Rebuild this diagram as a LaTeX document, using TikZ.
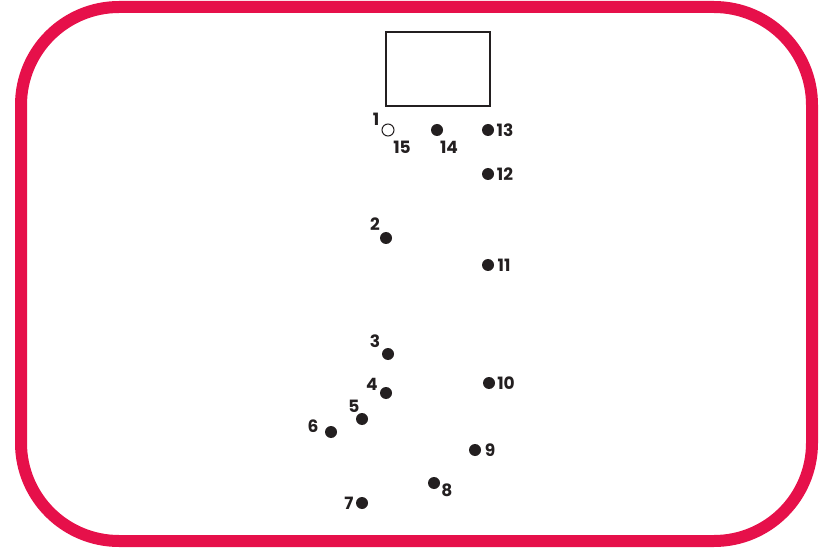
\documentclass[tikz,border=0pt]{standalone}
\usepackage{fontspec}
\setmainfont{Poppins}
\usepackage{tikz}
\usetikzlibrary{positioning}

\definecolor{frame}{RGB}{230,16,74}
\definecolor{ink}{RGB}{35,31,32}

\begin{document}
\begin{tikzpicture}[
    x=1pt, y=-1pt,
    dot/.style={circle, fill=ink, inner sep=0pt, minimum size=12pt},
    opendot/.style={circle, draw=ink, line width=1pt, fill=white, inner sep=0pt, minimum size=12pt},
    num/.style={font=\bfseries\fontsize{17}{17}\selectfont, text=ink, inner sep=0pt},
]
    \useasboundingbox (0,0) rectangle (833,548);

    % frame and box
    \draw[frame, line width=12pt, rounded corners=98pt] (21,7) rectangle (812,541);
    \draw[ink, line width=1.5pt] (386,32) rectangle (490,106);

    % dots
    \node[opendot] (d1) at (388,130) {};
    \node[dot] (d2) at (386,238) {};
    \node[dot] (d3) at (388,354) {};
    \node[dot] (d4) at (386,393) {};
    \node[dot] (d5) at (362,419) {};
    \node[dot] (d6) at (331,432) {};
    \node[dot] (d7) at (362,503) {};
    \node[dot] (d8) at (434,483) {};
    \node[dot] (d9) at (475,450) {};
    \node[dot] (d10) at (489,383) {};
    \node[dot] (d11) at (488,265) {};
    \node[dot] (d12) at (488,174) {};
    \node[dot] (d13) at (488,130) {};
    \node[dot] (d14) at (437,130) {};

    % numbers
    \node[num] (n1) at (376,119) {1};
    \node[num] (n2) at (375,224) {2};
    \node[num] (n3) at (375,341) {3};
    \node[num] (n4) at (372,384) {4};
    \node[num] (n5) at (354,406) {5};
    \node[num] (n6) at (313,426) {6};
    \node[num] (n7) at (349,503) {7};
    \node[num] (n8) at (447,490) {8};
    \node[num] (n9) at (490,450) {9};
    \node[num] (n10) at (506,383) {10};
    \node[num] (n11) at (504,265) {11};
    \node[num] (n12) at (505,174) {12};
    \node[num] (n13) at (505,130) {13};
    \node[num] (n14) at (449,147) {14};
    \node[num] (n15) at (402,147) {15};
\end{tikzpicture}
\end{document}
